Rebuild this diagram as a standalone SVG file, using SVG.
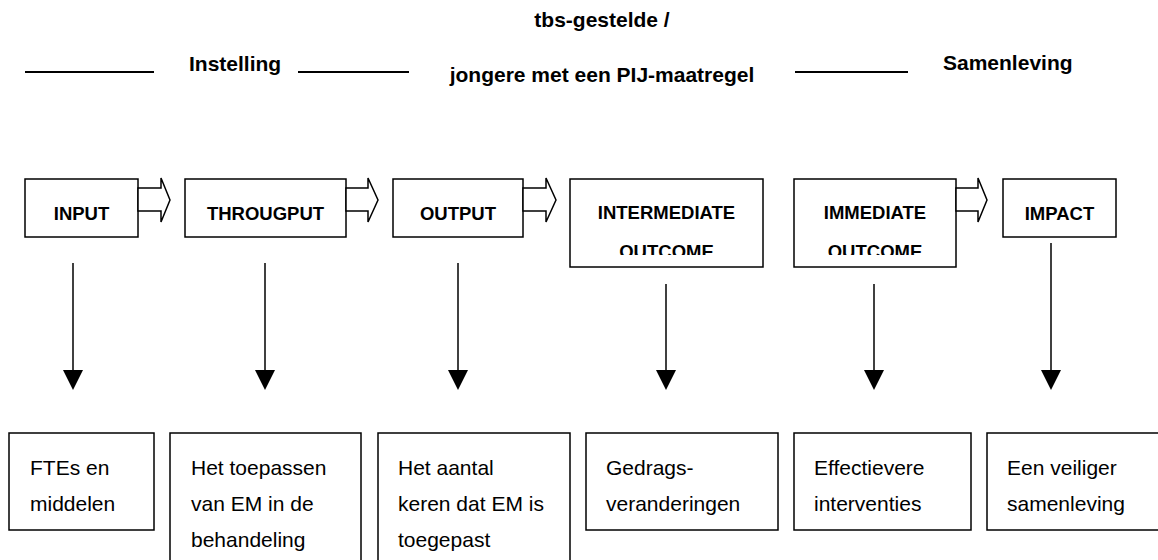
<svg xmlns="http://www.w3.org/2000/svg" width="1158" height="560" viewBox="0 0 1158 560">
<style>
.box{fill:#fff;stroke:#000;stroke-width:1.5}
.blk{fill:#fff;stroke:#000;stroke-width:1.5;stroke-linejoin:miter}
.hd{font-family:"Liberation Sans",Arial,sans-serif;font-weight:bold;font-size:21px;fill:#000}
.lb{font-family:"Liberation Sans",Arial,sans-serif;font-weight:bold;font-size:18.5px;fill:#000}
.tx{font-family:"Liberation Sans",Arial,sans-serif;font-size:21px;fill:#000}
.ln{stroke:#000;stroke-width:2}
.cn{stroke:#000;stroke-width:1.5;fill:none}
.ah{fill:#000;stroke:none}
</style>
<defs>
<clipPath id="clipInt"><rect x="570" y="179" width="193" height="76"/></clipPath>
<clipPath id="clipImm"><rect x="794" y="179" width="162" height="76"/></clipPath>
</defs>

<g id="header">
<line class="ln" x1="25" y1="72" x2="154" y2="72"/>
<text class="hd" x="189" y="71">Instelling</text>
<line class="ln" x1="298" y1="72" x2="409" y2="72"/>
<text class="hd" x="602" y="27" text-anchor="middle">tbs-gestelde /</text>
<text class="hd" x="602" y="82" text-anchor="middle">jongere met een PIJ-maatregel</text>
<line class="ln" x1="795" y1="72" x2="908" y2="72"/>
<text class="hd" x="943" y="70">Samenleving</text>
</g>

<g id="input">
<rect class="box" x="25" y="179" width="113" height="58"/>
<text class="lb" x="81.5" y="220" text-anchor="middle">INPUT</text>
</g>
<g id="throughput">
<rect class="box" x="185" y="179" width="161" height="58"/>
<text class="lb" x="265.5" y="220" text-anchor="middle">THROUGPUT</text>
</g>
<g id="output">
<rect class="box" x="393" y="179" width="130" height="58"/>
<text class="lb" x="458" y="220" text-anchor="middle">OUTPUT</text>
</g>
<g id="intermediate">
<rect class="box" x="570" y="179" width="193" height="88"/>
<g clip-path="url(#clipInt)">
<text class="lb" x="666.5" y="219" text-anchor="middle">INTERMEDIATE</text>
<text class="lb" x="666.5" y="258" text-anchor="middle">OUTCOME</text>
</g>
</g>
<g id="immediate">
<rect class="box" x="794" y="179" width="162" height="88"/>
<g clip-path="url(#clipImm)">
<text class="lb" x="875" y="219" text-anchor="middle">IMMEDIATE</text>
<text class="lb" x="875" y="258" text-anchor="middle">OUTCOME</text>
</g>
</g>
<g id="impact">
<rect class="box" x="1003" y="179" width="113" height="58"/>
<text class="lb" x="1059.5" y="220" text-anchor="middle">IMPACT</text>
</g>

<g id="res-input">
<rect class="box" x="9" y="433" width="145" height="97"/>
<text class="tx" x="30" y="475">FTEs en</text>
<text class="tx" x="30" y="511">middelen</text>
</g>
<g id="res-throughput">
<rect class="box" x="170" y="433" width="191" height="140"/>
<text class="tx" x="191" y="475">Het toepassen</text>
<text class="tx" x="191" y="511">van EM in de</text>
<text class="tx" x="191" y="547">behandeling</text>
</g>
<g id="res-output">
<rect class="box" x="378" y="433" width="192" height="140"/>
<text class="tx" x="398" y="475">Het aantal</text>
<text class="tx" x="398" y="511">keren dat EM is</text>
<text class="tx" x="398" y="547">toegepast</text>
</g>
<g id="res-intermediate">
<rect class="box" x="586" y="433" width="192" height="97"/>
<text class="tx" x="606" y="475">Gedrags-</text>
<text class="tx" x="606" y="511">veranderingen</text>
</g>
<g id="res-immediate">
<rect class="box" x="794" y="433" width="177" height="97"/>
<text class="tx" x="814" y="475">Effectievere</text>
<text class="tx" x="814" y="511">interventies</text>
</g>
<g id="res-impact">
<rect class="box" x="987" y="433" width="200" height="97"/>
<text class="tx" x="1007" y="475">Een veiliger</text>
<text class="tx" x="1007" y="511">samenleving</text>
</g>

<g id="connectors">
<polygon class="blk" points="138,188 161,188 161,178 170,200 161,222 161,211 138,211"/>
<polygon class="blk" points="346,188 368,188 368,178 378,200 368,222 368,211 346,211"/>
<polygon class="blk" points="523,188 546,188 546,178 556,200 546,222 546,211 523,211"/>
<polygon class="blk" points="956,188 978,188 978,178 987,200 978,222 978,211 956,211"/>
<line class="cn" x1="73" y1="263" x2="73" y2="372"/>
<polygon class="ah" points="63,370 83,370 73,390"/>
<line class="cn" x1="265" y1="263" x2="265" y2="372"/>
<polygon class="ah" points="255,370 275,370 265,390"/>
<line class="cn" x1="458" y1="263" x2="458" y2="372"/>
<polygon class="ah" points="448,370 468,370 458,390"/>
<line class="cn" x1="666" y1="284" x2="666" y2="372"/>
<polygon class="ah" points="656,370 676,370 666,390"/>
<line class="cn" x1="874" y1="284" x2="874" y2="372"/>
<polygon class="ah" points="864,370 884,370 874,390"/>
<line class="cn" x1="1051" y1="243" x2="1051" y2="372"/>
<polygon class="ah" points="1041,370 1061,370 1051,390"/>
</g>
</svg>
